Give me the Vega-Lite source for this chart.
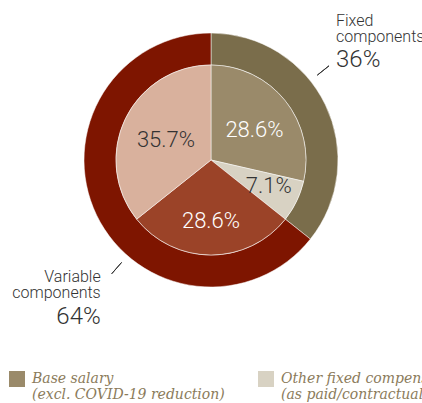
{
  "$schema": "https://vega.github.io/schema/vega-lite/v6.json",
  "width": 422,
  "height": 320,
  "autosize": {"type": "none"},
  "padding": {"left": 0, "top": 0, "right": 0, "bottom": 83},
  "background": "white",
  "config": {"view": {"stroke": null}, "font": "Roboto"},
  "datasets": {
    "inner": [
      {"component": "Base salary|(excl. COVID-19 reduction)", "value": 28.6, "label": "28.6%", "order": 1},
      {"component": "Other fixed compensation|(as paid/contractually agreed)", "value": 7.1, "label": "7.1%", "order": 2},
      {"component": "One-year variable|remuneration", "value": 28.6, "label": "28.6%", "order": 3},
      {"component": "Multi-year variable|remuneration", "value": 35.7, "label": "35.7%", "order": 4}
    ],
    "outer": [
      {"group": "Fixed|components", "value": 35.7, "pct": "36%", "order": 1},
      {"group": "Variable|components", "value": 64.3, "pct": "64%", "order": 2}
    ]
  },
  "layer": [
    {
      "data": {"name": "outer"},
      "mark": {"type": "arc", "radius": 127, "radius2": 95, "stroke": "white", "strokeWidth": 0.5},
      "encoding": {
        "theta": {"field": "value", "type": "quantitative", "stack": true, "scale": {"domain": [0, 100]}},
        "order": {"field": "order", "type": "quantitative"},
        "color": {
          "field": "group", "type": "nominal",
          "scale": {"domain": ["Fixed|components", "Variable|components"], "range": ["#7a6d4b", "#7e1500"]},
          "legend": null
        }
      }
    },
    {
      "data": {"name": "inner"},
      "mark": {"type": "arc", "radius": 95, "stroke": "white", "strokeWidth": 0.5},
      "encoding": {
        "theta": {"field": "value", "type": "quantitative", "stack": true, "scale": {"domain": [0, 100]}},
        "order": {"field": "order", "type": "quantitative"},
        "color": {
          "field": "component", "type": "nominal",
          "scale": {
            "domain": ["Base salary|(excl. COVID-19 reduction)", "Other fixed compensation|(as paid/contractually agreed)", "One-year variable|remuneration", "Multi-year variable|remuneration"],
            "range": ["#9a8a6a", "#d8d2c3", "#9b4328", "#d9b19d"]
          },
          "legend": {
            "orient": "none", "legendX": 9, "legendY": 364, "direction": "horizontal", "columns": 2, "columnPadding": 33, "rowPadding": 12,
            "padding": 0, "title": null, "symbolType": "M-1,-0.125H1V1.875H-1Z", "symbolSize": 256, "symbolStrokeWidth": 0, "symbolOpacity": 1,
            "labelExpr": "split(datum.label, '|')", "labelFont": "DejaVu Serif", "labelFontStyle": "italic",
            "labelFontSize": 14, "labelColor": "#8b7b5b", "labelLimit": 600, "labelOffset": 7, "labelBaseline": "top"
          }
        }
      }
    },
    {
      "data": {"name": "inner"},
      "transform": [
        {"stack": "value", "groupby": [], "sort": [{"field": "order"}], "as": ["v0", "v1"]},
        {"calculate": "(datum.v0 + datum.v1) / 2", "as": "mid"}
      ],
      "encoding": {
        "theta": {"field": "mid", "type": "quantitative", "stack": null, "scale": {"domain": [0, 100]}},
        "text": {"field": "label", "type": "nominal"}
      },
      "layer": [
        {
          "transform": [{"filter": "datum.order == 1"}],
          "mark": {"type": "text", "radius": 53, "dx": 2, "dy": 3, "fontSize": 22, "fontWeight": 300, "align": "center", "baseline": "middle", "color": "white"}
        },
        {
          "transform": [{"filter": "datum.order == 2"}],
          "mark": {"type": "text", "radius": 63, "dx": 1, "dy": -1, "fontSize": 22, "fontWeight": 300, "align": "center", "baseline": "middle", "color": "#333333"}
        },
        {
          "transform": [{"filter": "datum.order == 3"}],
          "mark": {"type": "text", "radius": 61, "fontSize": 22, "fontWeight": 300, "align": "center", "baseline": "middle", "color": "white"}
        },
        {
          "transform": [{"filter": "datum.order == 4"}],
          "mark": {"type": "text", "radius": 50, "dy": 2, "fontSize": 22, "fontWeight": 300, "align": "center", "baseline": "middle", "color": "#333333"}
        }
      ]
    },
    {
      "data": {"name": "outer"},
      "transform": [
        {"stack": "value", "groupby": [], "sort": [{"field": "order"}], "as": ["v0", "v1"]},
        {"calculate": "datum.v0 + 0.4 * datum.value", "as": "anchor"},
        {"calculate": "split(datum.group, '|')", "as": "lines"}
      ],
      "layer": [
        {
          "mark": {"type": "arc", "radius": 136, "radius2": 151, "filled": false, "stroke": "#333333", "strokeWidth": 1},
          "encoding": {
            "theta": {"field": "anchor", "type": "quantitative", "stack": null, "scale": {"domain": [0, 100]}},
            "theta2": {"field": "anchor"}
          }
        },
        {
          "transform": [{"filter": "datum.order == 1"}],
          "mark": {"type": "text", "radius": 151, "align": "left", "baseline": "alphabetic", "dx": 7, "dy": -40, "fontSize": 16, "lineHeight": 16, "fontWeight": 300, "color": "#333333"},
          "encoding": {
            "theta": {"field": "anchor", "type": "quantitative", "stack": null, "scale": {"domain": [0, 100]}},
            "text": {"field": "lines"}
          }
        },
        {
          "transform": [{"filter": "datum.order == 1"}],
          "mark": {"type": "text", "radius": 151, "align": "left", "baseline": "alphabetic", "dx": 7, "dy": 1, "fontSize": 24, "fontWeight": 300, "color": "#333333"},
          "encoding": {
            "theta": {"field": "anchor", "type": "quantitative", "stack": null, "scale": {"domain": [0, 100]}},
            "text": {"field": "pct", "type": "nominal"}
          }
        },
        {
          "transform": [{"filter": "datum.order == 2"}],
          "mark": {"type": "text", "radius": 151, "align": "right", "baseline": "alphabetic", "dx": -11, "dy": 8, "fontSize": 16, "lineHeight": 16, "fontWeight": 300, "color": "#333333"},
          "encoding": {
            "theta": {"field": "anchor", "type": "quantitative", "stack": null, "scale": {"domain": [0, 100]}},
            "text": {"field": "lines"}
          }
        },
        {
          "transform": [{"filter": "datum.order == 2"}],
          "mark": {"type": "text", "radius": 151, "align": "right", "baseline": "alphabetic", "dx": -11, "dy": 50, "fontSize": 24, "fontWeight": 300, "color": "#333333"},
          "encoding": {
            "theta": {"field": "anchor", "type": "quantitative", "stack": null, "scale": {"domain": [0, 100]}},
            "text": {"field": "pct", "type": "nominal"}
          }
        }
      ]
    }
  ],
  "resolve": {"scale": {"color": "independent"}}
}
